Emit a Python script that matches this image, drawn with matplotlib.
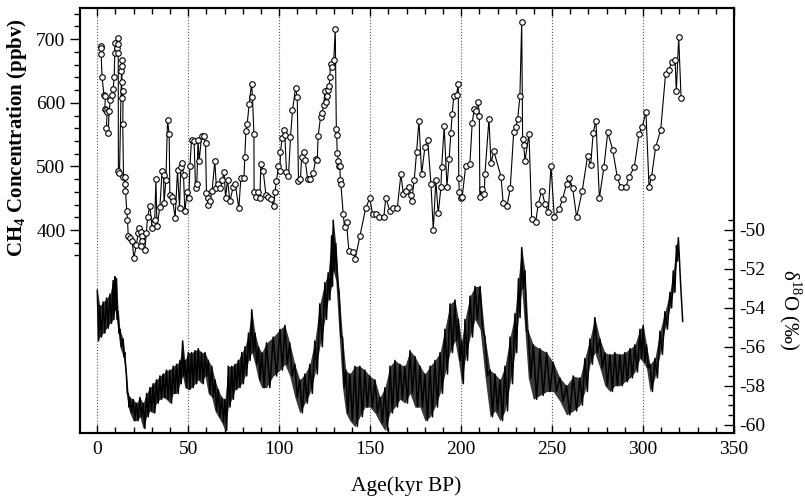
import matplotlib
matplotlib.use('Agg')
import matplotlib.pyplot as plt
from matplotlib.ticker import FixedLocator, MultipleLocator

# CH4 record (age kyr BP, ppbv)
ch4_age = [1.9, 2.0, 2.1, 2.6, 3.6, 4.5, 4.1, 5.0, 5.4, 5.0, 6.0, 6.5, 7.2, 8.2, 8.7, 9.3, 9.6, 9.8,
           10.7, 11.5, 11.4, 11.5, 11.6, 12.2, 13.3, 13.5, 13.8, 13.4, 13.6, 14.2, 14.0, 14.4, 15.3,
           15.1, 15.5, 16.2, 16.6, 17.0, 17.9, 19.2, 20.1, 21.4, 22.5, 23.0, 23.9, 24.3, 24.8, 24.2,
           26.1, 27.0, 27.6, 28.9, 30.1, 31.1, 31.6, 32.2, 32.8, 34.4, 35.6, 36.4, 36.7, 37.7, 38.6,
           39.5, 39.9, 40.8, 41.5, 42.8, 44.1, 45.2, 45.9, 46.6, 47.4, 48.1, 49.4, 50.3, 50.9, 51.8,
           53.2, 54.0, 54.7, 55.4, 56.0, 57.3, 58.4, 59.5, 60.0, 60.6, 60.9, 61.9, 63.1, 64.6, 65.5,
           66.4, 67.5, 68.6, 69.7, 70.5, 71.6, 72.9, 74.7, 75.8, 77.8, 78.9, 80.6, 81.1, 81.7, 82.4,
           83.5, 84.8, 85.3, 86.1, 86.2, 87.0, 88.3, 89.4, 89.9, 91.2, 92.7, 93.9, 95.6, 96.9, 97.6,
           98.5, 99.6, 100.4, 100.7, 101.6, 102.6, 103.1, 104.0, 105.1, 106.2, 107.3, 109.0, 109.9,
           110.6, 111.7, 112.3, 113.5, 114.3, 115.6, 117.0, 118.7, 120.0, 120.9, 121.4, 122.7, 123.6,
           124.5, 125.1, 125.6, 126.0, 126.6, 127.5, 127.8, 128.2, 129.1, 130.0, 130.8, 131.4, 131.6,
           131.9, 132.5, 132.9, 133.3, 133.6, 133.9, 135.2, 135.9, 137.0, 138.3, 140.7, 141.8, 144.3,
           147.5, 149.8, 151.3, 153.0, 154.8, 157.5, 158.6, 160.8, 162.7, 164.9, 166.9, 168.2, 169.6,
           171.5, 172.2, 172.8, 174.2, 175.5, 176.8, 178.3, 180.1, 181.6, 183.4, 184.7, 186.1, 187.4,
           188.9, 189.3, 190.7, 192.2, 193.4, 194.4, 195.1, 196.0, 197.5, 198.4, 198.7, 199.0, 199.9,
           200.6, 202.5, 204.8, 206.1, 207.2, 208.1, 209.4, 210.0, 210.3, 211.3, 212.7, 213.1, 215.3,
           216.4, 218.0, 221.9, 223.1, 225.2, 227.0, 228.9, 230.0, 231.1, 232.3, 233.3, 233.8, 234.4,
           235.1, 237.3, 238.8, 241.0, 242.4, 244.3, 246.1, 247.9, 249.4, 251.2, 253.9, 255.8, 258.0,
           259.3, 261.3, 263.5, 266.6, 269.5, 271.2, 272.6, 274.1, 276.0, 278.5, 280.6, 283.3, 285.8,
           287.7, 290.5, 292.4, 295.2, 297.8, 299.6, 301.6, 303.3, 304.7, 306.9, 309.7, 312.4, 314.3,
           315.7, 317.6, 318.3, 319.6, 320.9]
ch4_ppbv = [690, 686, 676, 641, 613, 610, 591, 589, 585, 560, 553, 587, 604, 613, 622, 640, 678, 694,
            686, 702, 692, 678, 492, 489, 650, 667, 658, 632, 608, 618, 566, 484, 483,
            472, 461, 430, 416, 391, 388, 382, 356, 376, 395, 403, 397, 390, 383, 375,
            368, 396, 420, 438, 403, 411, 415, 480, 406, 436, 492, 487, 442, 478, 573,
            551, 455, 452, 445, 419, 494, 434, 499, 506, 487, 430, 459, 451, 500, 542,
            540, 466, 473, 542, 508, 548, 548, 536, 458, 450, 439, 445, 462, 508, 466,
            473, 466, 478, 491, 451, 479, 445, 468, 473, 434, 481, 481, 514, 556, 567,
            598, 630, 609, 551, 460, 452, 460, 451, 503, 493, 455, 452, 449, 438, 459,
            477, 501, 493, 523, 544, 557, 549, 491, 485, 546, 588, 624, 609,
            477, 480, 514, 523, 510, 480, 480, 489, 511, 510, 548, 577, 584,
            597, 619, 602, 611, 620, 627, 640, 661, 657, 667, 716, 559, 549,
            521, 509, 501, 501, 479, 472, 425, 404, 412, 367, 365, 355, 390,
            434, 450, 425, 425, 420, 420, 451, 430, 434, 434, 488, 457, 461,
            468, 455, 446, 478, 522, 572, 488, 531, 542, 473, 400, 478, 426,
            467, 499, 563, 468, 512, 553, 583, 611, 612, 630, 481, 460, 451,
            452, 501, 503, 569, 590, 587, 601, 580, 452, 465, 456, 488, 575,
            505, 524, 484, 443, 437, 466, 554, 562, 575, 610, 727, 543, 534,
            508, 551, 417, 413, 441, 462, 441, 428, 501, 421, 433, 449, 473,
            482, 466, 420, 462, 516, 502, 553, 572, 450, 499, 554, 526, 484,
            467, 467, 484, 499, 551, 562, 586, 467, 484, 530, 557, 646, 652,
            664, 668, 618, 703, 608]

# d18O record: upper and lower edge of the noisy trace (permil)
d18o_age = [0.0, 1.4, 3.2, 5.1, 6.9, 8.7, 9.6, 10.5, 11.5, 12.4, 14.2, 15.1, 16.0, 17.0, 17.9, 19.7,
            21.5, 23.4, 25.2, 27.1, 28.9, 30.7, 32.5, 34.4, 36.2, 38.0, 39.9, 41.7, 43.6, 45.4, 46.9,
            48.2, 50.0, 51.8, 53.7, 55.5, 57.3, 59.2, 61.0, 62.9, 64.7, 66.5, 68.4, 70.2, 72.0, 73.9,
            75.7, 77.5, 79.4, 81.2, 83.1, 84.9, 86.7, 88.6, 90.4, 93.0, 96.7, 100.4, 103.1, 105.8,
            108.6, 111.3, 114.1, 116.8, 119.6, 122.3, 125.1, 126.9, 128.8, 129.7, 131.1, 133.0, 134.8,
            136.6, 138.8, 141.6, 144.3, 147.1, 149.8, 152.6, 155.4, 158.1, 160.9, 163.6, 166.4, 169.1,
            171.9, 174.6, 177.4, 180.1, 182.9, 185.6, 188.4, 191.1, 193.9, 196.6, 198.5, 200.3, 202.1,
            204.9, 207.6, 210.4, 213.1, 215.9, 218.6, 221.4, 224.1, 226.9, 229.6, 231.5, 233.3, 235.1,
            236.9, 239.7, 243.3, 247.0, 250.6, 254.3, 257.9, 261.6, 265.3, 268.0, 270.8, 273.5, 276.3,
            279.0, 281.8, 284.5, 287.3, 290.0, 292.8, 295.5, 298.3, 300.1, 301.9, 303.8, 306.5, 309.3,
            312.0, 314.8, 316.6, 318.4, 319.4]
d18o_hi = [-53.1, -53.9, -53.7, -53.5, -53.3, -52.6, -52.4, -52.5, -54.2, -55.1, -55.6, -56.3, -57.4,
           -58.4, -58.6, -58.7, -58.9, -58.6, -58.9, -58.4, -58.1, -57.9, -57.7, -57.5, -57.4, -57.2,
           -57.2, -57.0, -56.9, -56.7, -55.7, -56.7, -56.3, -56.3, -56.2, -56.1, -56.3, -56.3, -56.7,
           -57.0, -57.7, -58.2, -58.6, -58.7, -57.0, -57.0, -56.9, -56.7, -56.3, -56.0, -55.3, -54.1,
           -55.3, -56.0, -56.3, -55.8, -55.5, -55.1, -54.9, -55.8, -56.9, -57.7, -57.4, -56.9, -55.7,
           -53.8, -52.7, -52.2, -50.3, -49.5, -50.7, -53.3, -55.5, -57.2, -57.4, -57.0, -57.0, -57.2,
           -57.5, -57.7, -58.6, -58.1, -57.0, -56.7, -56.9, -57.0, -56.2, -56.5, -57.0, -57.4, -57.0,
           -56.7, -56.3, -55.1, -53.8, -53.6, -54.6, -55.7, -54.6, -53.4, -52.9, -52.9, -55.5, -57.2,
           -57.4, -57.7, -57.0, -55.5, -54.3, -52.5, -50.9, -52.1, -55.2, -55.9, -56.1, -56.3, -56.8,
           -57.6, -58.0, -57.5, -57.6, -56.6, -55.6, -54.5, -55.6, -56.3, -56.4, -56.3, -56.4, -56.3,
           -56.1, -55.9, -55.1, -54.9, -55.9, -56.9, -56.6, -55.2, -54.2, -53.2, -52.1, -50.8, -50.4]
d18o_lo = [-55.7, -55.5, -55.3, -55.05, -54.8, -54.6, -54.1, -54.6, -55.3, -56.0, -56.5, -57.0, -58.4,
           -59.1, -59.4, -59.8, -59.8, -59.6, -60.2, -59.6, -59.3, -59.4, -58.9, -58.7, -58.6, -58.7,
           -58.9, -58.4, -58.4, -57.9, -57.5, -58.1, -58.2, -58.1, -57.9, -57.7, -57.9, -57.5, -58.4,
           -58.6, -59.3, -59.6, -59.9, -60.3, -59.1, -58.7, -58.2, -58.1, -57.9, -57.5, -56.7, -56.3,
           -56.9, -57.7, -58.1, -58.1, -57.5, -57.2, -56.9, -57.5, -58.6, -59.4, -58.9, -58.4, -57.4,
           -56.0, -54.6, -53.6, -52.9, -52.1, -52.6, -55.5, -58.1, -59.4, -59.8, -60.1, -59.6, -59.1,
           -59.1, -59.4, -59.9, -60.3, -59.4, -59.1, -58.7, -58.9, -58.4, -59.1, -59.1, -59.8, -59.6,
           -59.1, -58.4, -57.4, -56.3, -55.7, -56.7, -57.9, -56.7, -55.5, -54.6, -55.1, -57.5, -59.6,
           -59.3, -59.8, -59.3, -57.9, -56.3, -54.5, -53.0, -55.2, -57.6, -58.7, -58.5, -58.3, -58.3,
           -58.8, -59.5, -59.3, -59.0, -58.3, -56.9, -56.3, -57.1, -58.0, -58.3, -58.0, -58.0, -57.8,
           -57.6, -57.3, -56.6, -56.8, -57.1, -58.3, -57.6, -56.4, -55.1, -54.0, -53.2, -51.6, -51.3]
tail_age = [320.5, 321.8]
tail_d18o = [-52.5, -54.7]

plt.rcParams['font.family'] = ['Liberation Serif', 'DejaVu Serif']
plt.rcParams['axes.unicode_minus'] = False
plt.rcParams['mathtext.fontset'] = 'custom'
plt.rcParams['mathtext.rm'] = 'Liberation Serif'
plt.rcParams['mathtext.bf'] = 'Liberation Serif:bold'

fig = plt.figure(figsize=(8.05, 4.99), dpi=100)
ax = fig.add_axes([0.0994, 0.1323, 0.8124, 0.8517])
ax2 = ax.twinx()

# dotted verticals
for v in range(0, 301, 50):
    ax.axvline(v, color='0.35', ls=':', lw=0.8, zorder=1)

ax.plot(ch4_age, ch4_ppbv, '-o', color='black', lw=0.8, ms=4, mfc='white',
        mec='black', mew=0.8, zorder=3)

# noisy d18O trace: dark band between the read edges plus a ragged black zigzag
ax2.fill_between(d18o_age, d18o_hi, d18o_lo, color='0.22', lw=0)
xs, ys = [], []
for i, a in enumerate(d18o_age):
    nxt = d18o_age[i + 1] if i + 1 < len(d18o_age) else a + 1.0
    xs += [a, (a + nxt) / 2]
    ys += [d18o_hi[i], d18o_lo[i]]
xs += tail_age
ys += tail_d18o
ax2.plot(xs, ys, color='black', lw=1.1)

ax.set_xlim(-9.5, 350)
ax.set_ylim(81, 749)
ax2.set_ylim(-60.43, -38.6)

ax.xaxis.set_major_locator(FixedLocator(list(range(0, 351, 50))))
ax.xaxis.set_minor_locator(MultipleLocator(10))
ax.tick_params(axis='x', which='both', direction='in', top=True, labelsize=14, pad=6)
ax.tick_params(axis='x', which='major', length=6, width=1)
ax.tick_params(axis='x', which='minor', length=4, width=1)

ax.yaxis.set_major_locator(FixedLocator([400, 500, 600, 700]))
ax.yaxis.set_minor_locator(FixedLocator([v for v in range(360, 741, 20) if v % 100]))
ax.tick_params(axis='y', which='both', direction='out', labelsize=14)
ax.tick_params(axis='y', which='major', length=7, width=1)
ax.tick_params(axis='y', which='minor', length=4, width=1)

ax2.yaxis.set_major_locator(FixedLocator([-60, -58, -56, -54, -52, -50]))
ax2.yaxis.set_minor_locator(FixedLocator([-60 + 0.5 * k for k in range(22)]))
ax2.tick_params(axis='y', which='both', direction='in', labelsize=14)
ax2.tick_params(axis='y', which='major', length=7, width=1)
ax2.tick_params(axis='y', which='minor', length=4, width=1)

for a in (ax, ax2):
    for s in a.spines.values():
        s.set_linewidth(1.5)

ax.text(-0.096, 0.696, r'CH$_\mathbf{4}$ Concentration (ppbv)', transform=ax.transAxes,
        rotation=90, ha='center', va='center', fontsize=15, fontweight='bold')
ax2.text(1.086, 0.289, 'δ$^{18}$O (‰)', transform=ax.transAxes, rotation=-90,
         ha='center', va='center', fontsize=15)
fig.text(0.504, 0.025, 'Age(kyr BP)', ha='center', va='center', fontsize=15.5)

fig.savefig('out.png', dpi=100)
